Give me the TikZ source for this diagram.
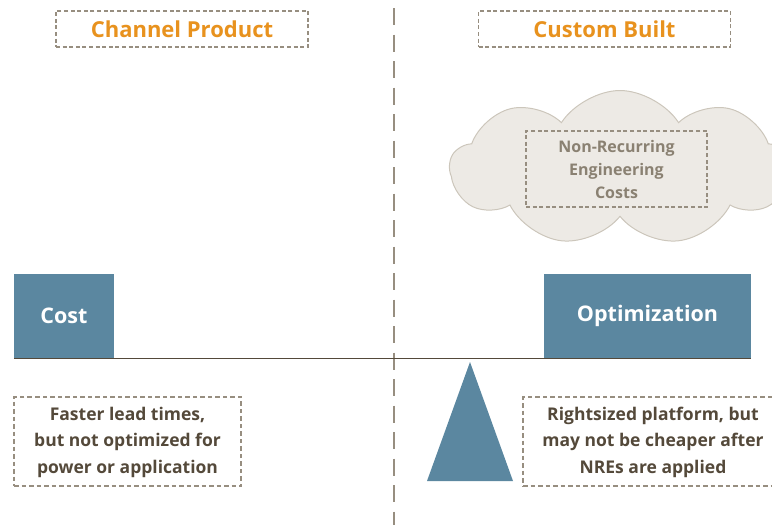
\documentclass[tikz,border=0pt]{standalone}
\usepackage{fontspec}
\setmainfont{Open Sans}
\usepackage{xcolor}
\usetikzlibrary{positioning, shapes.symbols}

\definecolor{steel}{HTML}{5B87A0}
\definecolor{amber}{HTML}{E8921E}
\definecolor{dashgray}{HTML}{978E80}
\definecolor{darktxt}{HTML}{54493A}
\definecolor{nretxt}{HTML}{8A8172}
\definecolor{cloudfill}{HTML}{EDEAE5}
\definecolor{clouddraw}{HTML}{CCC6BB}

\begin{document}
\begin{tikzpicture}[x=1pt, y=-1pt,
    header/.style={rectangle, draw=dashgray, dash pattern=on 4pt off 2.6pt, line width=1.6pt,
                   text=amber, font=\fontsize{22}{27}\selectfont\bfseries,
                   minimum width=252pt, minimum height=36pt, inner sep=0pt},
    weight/.style={rectangle, fill=steel, text=white, font=\fontsize{21.5}{26}\selectfont\bfseries,
                   minimum height=84pt, inner sep=0pt},
    note/.style={rectangle, draw=dashgray, dash pattern=on 4.5pt off 3pt, line width=1.8pt,
                 text=darktxt, align=center, font=\fontsize{17.5}{26.5}\selectfont\bfseries,
                 minimum height=89pt, inner sep=0pt},
    beam/.style={draw=darktxt, line width=1.3pt},
]
\useasboundingbox (0,0) rectangle (772,525);

% centre divider
\coordinate (divtop) at (394,8);
\coordinate (divbot) at (394,525);
\draw[dashgray, line width=2pt, dash pattern=on 17pt off 9.5pt] (divtop) -- (divbot);

% Headers
\node[header] (chan)   at (182,29)   {Channel Product};
\node[header] (custom) at (604.5,29) {Custom Built};

% NRE cloud
\node[cloud, cloud puffs=9, cloud puff arc=115, aspect=2.2, fill=cloudfill, draw=clouddraw,
      line width=1pt, minimum width=340pt, minimum height=155pt] (cloud) at (620,168) {};
\node[rectangle, draw=dashgray, dash pattern=on 4pt off 2.6pt, line width=1.6pt, text=nretxt,
      align=center, font=\fontsize{16}{23}\selectfont\bfseries, minimum width=181pt,
      minimum height=76pt, inner sep=0pt] (nre) at (616.5,169) {Non-Recurring\\Engineering\\Costs};

% Seesaw
\node[weight, minimum width=100pt] (cost) at (64,316)  {\raisebox{-4pt}{Cost}};
\node[weight, minimum width=207pt] (opt)  at (647.5,316) {\raisebox{-4pt}{Optimization}};
\draw[beam] (cost.south west) -- (opt.south east);
\coordinate (pivot) at (470,362);
\fill[steel] (pivot) -- ++(-43,119) -- ++(86,0) -- cycle;

% Notes under each side
\node[note, minimum width=227pt] (fast)  at (127.5,441.5) {\raisebox{-2pt}{\begin{tabular}{@{}c@{}}Faster lead times,\\but not optimized for\\power or application\end{tabular}}};
\node[note, minimum width=260pt] (right) at (653,441.5) {\raisebox{-2pt}{\begin{tabular}{@{}c@{}}Rightsized platform, but\\may not be cheaper after\\NREs are applied\end{tabular}}};

\end{tikzpicture}
\end{document}
